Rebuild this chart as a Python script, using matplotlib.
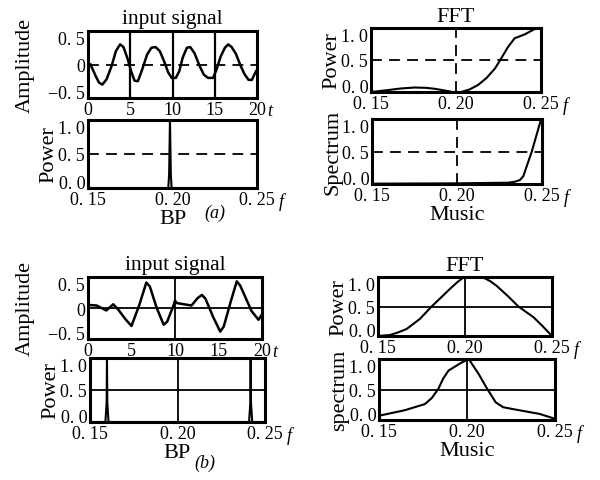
import matplotlib
matplotlib.use("Agg")
import matplotlib.pyplot as plt

plt.rcParams["font.family"] = ["Liberation Serif", "DejaVu Serif"]

# (a) input signal
t_a = [0.3, 0.9, 1.3, 1.7, 2.2, 2.8, 3.3, 3.8, 4.2, 4.7, 5.1, 5.5, 5.9, 6.4, 7.0, 7.5, 8.0,
       8.5, 9.0, 9.5, 9.9, 10.4, 10.8, 11.2, 11.7, 12.1, 12.6, 13.2, 13.7, 14.2, 14.8, 15.2,
       15.7, 16.2, 16.6, 17.0, 17.5, 18.0, 18.5, 19.0, 19.4, 19.8, 20.0]
sig_a = [0.0, -0.17, -0.27, -0.30, -0.22, -0.02, 0.20, 0.30, 0.26, 0.08, -0.10, -0.24, -0.25,
         -0.08, 0.15, 0.25, 0.26, 0.20, 0.05, -0.12, -0.20, -0.20, -0.10, 0.10, 0.25, 0.26,
         0.17, -0.02, -0.15, -0.20, -0.20, -0.08, 0.12, 0.25, 0.30, 0.26, 0.16, 0.0, -0.14,
         -0.23, -0.23, -0.12, -0.08]

# (a) BP spectrum
bp_a_f = [0.15, 0.1975, 0.198, 0.1985, 0.199, 0.1995, 0.25]
bp_a_p = [0.0, 0.0, 0.2, 1.0, 0.2, 0.0, 0.0]

# (a) FFT power
fft_a_f = [0.15, 0.155, 0.16, 0.1675, 0.1757, 0.1825, 0.1875, 0.193, 0.198, 0.203, 0.208,
           0.213, 0.218, 0.223, 0.2267, 0.2305, 0.2345, 0.2404, 0.246, 0.25]
fft_a_p = [0.0, 0.015, 0.03, 0.055, 0.07, 0.065, 0.05, 0.025, 0.0, 0.0, 0.04, 0.11, 0.22,
           0.37, 0.53, 0.70, 0.84, 0.90, 0.98, 1.0]

# (a) Music spectrum
mus_a_f = [0.15, 0.20, 0.23, 0.234, 0.237, 0.239, 0.244, 0.2495]
mus_a_p = [0.005, 0.01, 0.02, 0.035, 0.06, 0.12, 0.5, 1.0]

# (b) input signal
t_b = [0.0, 1.0, 2.1, 2.9, 3.5, 4.3, 5.0, 5.9, 6.7, 7.1, 7.9, 8.7, 9.1, 9.8, 10.0, 10.2,
       11.9, 12.6, 13.1, 13.5, 14.4, 15.2, 15.6, 16.4, 17.1, 17.5, 18.8, 19.6, 20.0]
sig_b = [0.05, 0.04, -0.04, 0.06, -0.03, -0.18, -0.29, 0.05, 0.41, 0.35, 0.0, -0.27, -0.22,
         0.03, 0.12, 0.08, 0.04, 0.16, 0.21, 0.15, -0.15, -0.38, -0.30, 0.10, 0.43, 0.36,
         -0.05, -0.19, -0.10]

# (b) BP spectrum
bp_b_f = [0.15, 0.1588, 0.1595, 0.1597, 0.1599, 0.1606, 0.2409, 0.2416, 0.2418, 0.242, 0.2427, 0.25]
bp_b_p = [0.0, 0.0, 0.3, 1.0, 0.3, 0.0, 0.0, 0.3, 1.0, 0.3, 0.0, 0.0]

# (b) FFT power
fft_b_f = [0.15, 0.1569, 0.1615, 0.1665, 0.1741, 0.1808, 0.1865, 0.1914, 0.1955, 0.199,
           0.2029, 0.2065, 0.2105, 0.2145, 0.2182, 0.2245, 0.2307, 0.2393, 0.2445, 0.25]
fft_b_p = [0.0, 0.017, 0.06, 0.12, 0.29, 0.5, 0.66, 0.8, 0.91, 0.99, 1.0, 1.0, 0.99, 0.93,
           0.85, 0.68, 0.5, 0.32, 0.17, 0.0]

# (b) Music spectrum
mus_b_f = [0.15, 0.1646, 0.176, 0.180, 0.1837, 0.1865, 0.1895, 0.1962, 0.201, 0.2067,
           0.2115, 0.2163, 0.2205, 0.2259, 0.2412, 0.25]
mus_b_p = [0.07, 0.16, 0.26, 0.36, 0.51, 0.68, 0.81, 0.93, 1.0, 0.75, 0.51, 0.29, 0.21,
           0.18, 0.10, 0.02]

sig_ticks = [-0.5, 0, 0.5]
sig_labels = ["\u22120. 5", "0", "0. 5"]
pow_ticks = [0, 0.5, 1.0]
pow_labels = ["0. 0", "0. 5", "1. 0"]
t_ticks = [0, 5, 10, 15, 20]
f_ticks = [0.15, 0.20, 0.25]
f_labels = ["0. 15", "0. 20", "0. 25"]

W, H = 600, 481
fig = plt.figure(figsize=(6, 4.81), dpi=100)


def make_ax(left, right, top, bottom):
    ax = fig.add_axes([left / W, 1 - bottom / H, (right - left) / W, (bottom - top) / H])
    for s in ax.spines.values():
        s.set_linewidth(2.2)
    ax.tick_params(length=0, labelsize=13, pad=2)
    return ax


def pull_in(ax):
    # end labels sit inside the frame, as in the printed figure
    labs = ax.get_yticklabels()
    labs[0].set_va("baseline")
    labs[-1].set_va("top")


def sig_axes(ax, x, y):
    ax.plot(x, y, color="black", lw=1.8)
    ax.set_xlim(0, 20)
    ax.set_ylim(-0.5, 0.5)
    ax.set_xticks(t_ticks)
    ax.set_yticks(sig_ticks)
    ax.set_yticklabels(sig_labels)
    pull_in(ax)
    ax.set_ylabel("Amplitude", fontsize=16, labelpad=10)
    ax.set_title("input signal", fontsize=15.5, pad=6)
    ax.annotate("t", xy=(1, 0), xycoords="axes fraction", xytext=(7, -3),
                textcoords="offset points", fontsize=13, style="italic", va="top")


def spec_axes(ax, x, y, ylabel):
    ax.plot(x, y, color="black", lw=1.5)
    ax.set_xlim(0.15, 0.25)
    ax.set_ylim(0, 1.0)
    ax.set_xticks(f_ticks)
    ax.set_xticklabels(f_labels)
    ax.set_yticks(pow_ticks)
    ax.set_yticklabels(pow_labels)
    pull_in(ax)
    ax.set_ylabel(ylabel, fontsize=16, labelpad=0)
    ax.annotate("f", xy=(1, 0), xycoords="axes fraction", xytext=(16, -3),
                textcoords="offset points", fontsize=13, style="italic", va="top")


dash = dict(color="black", lw=1.3, ls=(0, (6, 4)))
solid = dict(color="black", lw=1.3)

# ---- (a) ----
ax = make_ax(88, 257, 32, 99)
sig_axes(ax, t_a, sig_a)
for tv in [5, 10, 15]:
    ax.axvline(tv, color="black", lw=1.6)
ax.axhline(0, **dash)

ax = make_ax(88, 257, 121, 189)
spec_axes(ax, bp_a_f, bp_a_p, "Power")
ax.axhline(0.5, **dash)
ax.set_xlabel("BP", fontsize=16, labelpad=1)

ax = make_ax(371, 541, 29, 93)
spec_axes(ax, fft_a_f, fft_a_p, "Power")
ax.axhline(0.5, **dash)
ax.axvline(0.20, **dash)
ax.set_title("FFT", fontsize=16, pad=5)

ax = make_ax(372, 542, 120, 185)
spec_axes(ax, mus_a_f, mus_a_p, "Spectrum")
ax.axhline(0.5, **dash)
ax.axvline(0.20, **dash)
ax.set_xlabel("Music", fontsize=16, labelpad=1)

fig.text(215 / W, 1 - 213 / H, "(a)", fontsize=13, style="italic", ha="center", va="center")

# ---- (b) ----
ax = make_ax(88, 262, 278, 340)
sig_axes(ax, t_b, sig_b)
ax.axvline(10, **solid)
ax.axhline(0, **solid)

ax = make_ax(90, 265, 359, 423)
spec_axes(ax, bp_b_f, bp_b_p, "Power")
ax.axhline(0.5, **solid)
ax.axvline(0.20, **solid)
ax.set_xlabel("BP", fontsize=16, labelpad=1)

ax = make_ax(378, 552, 278, 337)
spec_axes(ax, fft_b_f, fft_b_p, "Power")
ax.axhline(0.5, **solid)
ax.axvline(0.20, **solid)
ax.set_title("FFT", fontsize=16, pad=5)

ax = make_ax(379, 555, 360, 421)
spec_axes(ax, mus_b_f, mus_b_p, "spectrum")
ax.axhline(0.5, **solid)
ax.axvline(0.20, **solid)
ax.set_xlabel("Music", fontsize=16, labelpad=1)

fig.text(205 / W, 1 - 463 / H, "(b)", fontsize=13, style="italic", ha="center", va="center")

fig.savefig("out.png", dpi=100)
